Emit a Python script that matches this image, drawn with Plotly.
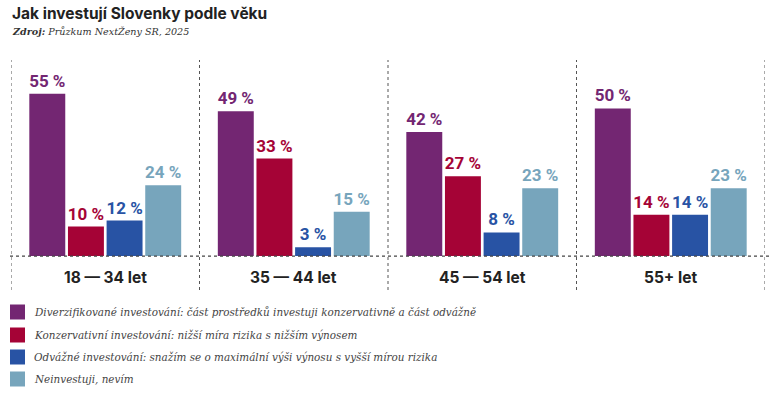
import plotly.graph_objects as go

categories = ["18 — 34 let", "35 — 44 let", "45 — 54 let", "55+ let"]
series_names = [
    "Diverzifikované investování: část prostředků investuji konzervativně a část odvážně",
    "Konzervativní investování: nižší míra rizika s nižším výnosem",
    "Odvážné investování: snažím se o maximální výši výnosu s vyšší mírou rizika",
    "Neinvestuji, nevím",
]
diverzifikovane = [55, 49, 42, 50]
konzervativni = [10, 33, 27, 14]
odvazne = [12, 3, 8, 14]
neinvestuji = [24, 15, 23, 23]
colors = ["#732672", "#A50336", "#2853A4", "#77A5BC"]

title = "Jak investují Slovenky podle věku"
source_label = "Zdroj:"
source_text = "Průzkum NextŽeny SR, 2025"

values = [diverzifikovane, konzervativni, odvazne, neinvestuji]

W, H = 777, 398
top, bottom = 60, 290
left, right = 11, 765
PW, PH = right - left, bottom - top


def px(x):
    return (x - left) / PW


def py(y):
    return (bottom - y) / PH


fig = go.Figure()
for name, vals, col in zip(series_names, values, colors):
    fig.add_trace(go.Bar(
        x=list(range(len(categories))), y=vals, name=name,
        marker=dict(color=col, line=dict(width=0)),
        text=[f"{v} %" for v in vals], textposition="outside",
        constraintext="none", cliponaxis=False,
        textfont=dict(family="Roboto, sans-serif", size=17, color=col, weight="bold"),
        showlegend=False,
    ))

shapes = []
for i in range(len(categories) + 1):
    shapes.append(dict(type="line", xref="x", yref="paper", x0=i - 0.5, x1=i - 0.5,
                       y0=0, y1=1, line=dict(color="#555", width=1, dash="dot")))
shapes.append(dict(type="line", xref="paper", yref="y", x0=px(10), x1=px(769), y0=0, y1=0,
                   line=dict(color="#444", width=1.2, dash="dot")))

annotations = []
for i, c in enumerate(categories):
    annotations.append(dict(x=i, y=-7.1, xref="x", yref="y", text=c, showarrow=False,
                            font=dict(family="Inter, Roboto, sans-serif", size=15.5,
                                      color="#222", weight="bold")))

annotations.append(dict(x=px(10), y=py(13), xref="paper", yref="paper", text=f"<b>{title}</b>",
                        showarrow=False, xanchor="left", yanchor="middle",
                        font=dict(family="Inter, Roboto, sans-serif", size=15.5, color="#222")))
annotations.append(dict(x=px(10), y=py(31), xref="paper", yref="paper",
                        text=f"<b><i>{source_label}</i></b> <i>{source_text}</i>",
                        showarrow=False, xanchor="left", yanchor="middle",
                        font=dict(family="DejaVu Serif, serif", size=9.6, color="#333")))

legend_y = [312, 335, 357, 379]
for name, col, yy in zip(series_names, colors, legend_y):
    shapes.append(dict(type="rect", xref="paper", yref="paper",
                       x0=px(10), x1=px(25), y0=py(yy - 7.5), y1=py(yy + 7.5),
                       fillcolor=col, line=dict(width=0)))
    annotations.append(dict(x=px(32), y=py(yy), xref="paper", yref="paper",
                            text=f"<i>{name}</i>", showarrow=False,
                            xanchor="left", yanchor="middle",
                            font=dict(family="DejaVu Serif, serif", size=10.4, color="#444")))

fig.update_layout(
    width=W, height=H,
    margin=dict(l=left, r=W - right, t=top, b=H - bottom),
    paper_bgcolor="white", plot_bgcolor="white",
    barmode="group", bargap=0.18, bargroupgap=0.07,
    xaxis=dict(range=[-0.5, 3.5], showgrid=False, zeroline=False, showticklabels=False,
               fixedrange=True),
    yaxis=dict(range=[-11.5, 66.4], showgrid=False, zeroline=False, showticklabels=False,
               fixedrange=True),
    shapes=shapes, annotations=annotations,
)

fig.write_html("out.html", config={"displayModeBar": False},
               post_script="document.body.style.margin='0px';document.body.style.overflow='hidden';")
